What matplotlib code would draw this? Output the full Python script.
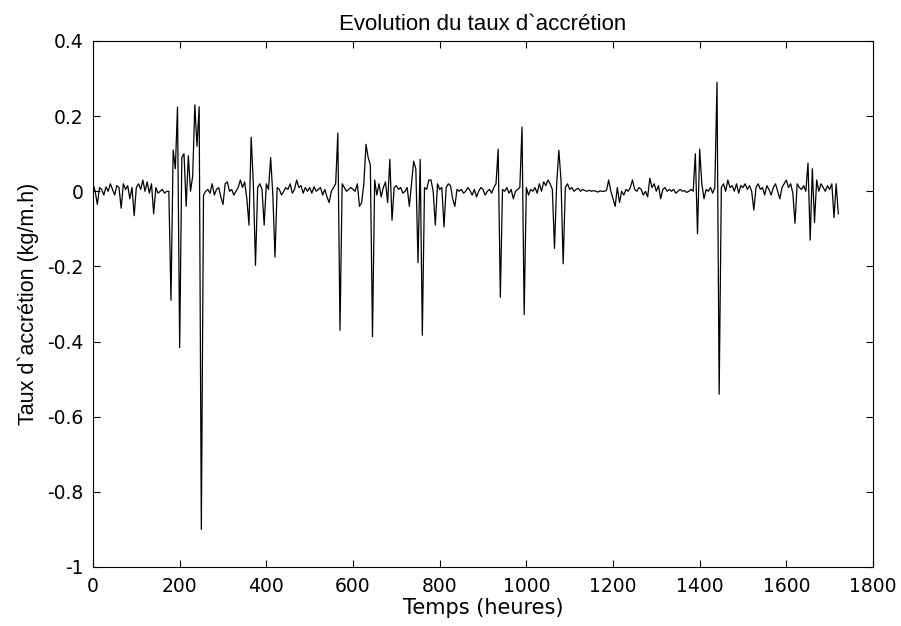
import matplotlib
matplotlib.use("Agg")
import matplotlib.pyplot as plt
import numpy as np

plt.rcParams["font.family"] = ["Liberation Sans", "DejaVu Sans"]
plt.rcParams["axes.unicode_minus"] = False

# sampling step of the read-off series (hours)
step = 5

# accretion rate (kg/m.h), one row per 100 hours
rate = [
    0.02, 0.0, -0.035, 0.01, 0.005, -0.01, 0.012, 0.0, 0.02, 0.005,
    -0.01, 0.015, 0.01, -0.045, 0.02, 0.005, 0.015, -0.02, 0.01, -0.065,
    0.01, 0.02, 0.005, 0.03, 0.0, 0.025, -0.005, 0.02, -0.06, 0.01,
    -0.005, 0.0, 0.005, -0.005, 0.0, 0.0, -0.29, 0.11, 0.06, 0.224,
    -0.416, 0.09, 0.1, -0.04, 0.095, 0.0, 0.04, 0.23, 0.12, 0.225,
    -0.9, -0.01, 0.0, 0.005, -0.005, 0.02, -0.01, 0.005, 0.01, -0.015,
    -0.035, 0.02, 0.025, 0.0, 0.005, -0.01, 0.0, 0.01, 0.03, 0.01,
    0.025, -0.02, -0.09, 0.144, 0.02, -0.197, 0.01, 0.02, 0.005, -0.09,
    0.02, 0.005, 0.09, -0.01, -0.175, 0.01, 0.005, -0.01, 0.0, 0.01,
    0.005, 0.02, -0.005, 0.005, 0.03, 0.01, 0.015, -0.005, 0.01, 0.0,
    0.01, -0.005, 0.012, 0.0, 0.005, 0.01, -0.01, 0.005, -0.015, -0.03,
    0.0, 0.01, 0.02, 0.155, -0.37, 0.02, 0.01, 0.0, 0.005, 0.01,
    0.005, 0.0, 0.02, -0.04, -0.03, 0.02, 0.125, 0.09, 0.07, -0.387,
    0.03, -0.01, 0.02, -0.015, 0.01, 0.025, -0.03, 0.085, -0.077, 0.01,
    0.015, 0.005, 0.01, -0.005, 0.0, 0.01, -0.04, 0.02, 0.08, 0.06,
    -0.19, 0.085, -0.383, 0.01, 0.005, 0.03, 0.03, 0.0, -0.09, 0.02,
    0.005, 0.01, -0.095, 0.01, 0.02, 0.015, -0.02, -0.04, 0.005, 0.0,
    0.005, -0.005, 0.0, 0.01, 0.002, -0.01, 0.005, -0.015, 0.0, 0.01,
    0.005, -0.01, 0.0, 0.005, -0.005, 0.01, 0.02, 0.112, -0.282, 0.005,
    0.0, 0.01, -0.005, 0.005, -0.02, 0.0, 0.005, 0.01, 0.171, -0.328,
    0.01, -0.01, 0.005, 0.0, 0.01, -0.005, 0.02, 0.0, 0.025, 0.015,
    0.03, 0.02, 0.005, -0.152, 0.02, 0.109, 0.03, -0.193, 0.01, 0.02,
    0.005, 0.01, 0.0, 0.005, 0.008, 0.0, 0.005, 0.002, 0.0, 0.003,
    0.0, 0.002, 0.0, -0.002, 0.001, 0.0, 0.0, 0.002, 0.03, 0.0,
    -0.02, -0.04, 0.01, -0.03, 0.0, -0.01, 0.005, 0.0, 0.01, 0.03,
    0.005, 0.0, 0.01, 0.005, -0.01, 0.0, -0.015, 0.035, 0.01, 0.02,
    0.0, 0.015, -0.02, 0.005, 0.01, 0.0, 0.005, 0.0, 0.005, -0.005,
    0.0, 0.005, 0.0, 0.002, -0.003, 0.0, 0.005, 0.0, 0.1, -0.113,
    0.112, 0.02, -0.02, 0.005, 0.0, 0.01, -0.005, 0.01, 0.29, -0.54,
    0.01, 0.02, 0.0, 0.03, 0.01, 0.015, 0.0, 0.02, -0.005, 0.015,
    0.01, 0.02, 0.005, 0.015, 0.0, -0.05, 0.01, 0.02, 0.005, 0.01,
    -0.01, 0.015, 0.005, -0.01, 0.01, 0.02, 0.0, -0.02, 0.01, 0.02,
    0.03, 0.01, 0.02, -0.005, -0.085, 0.02, 0.01, 0.005, 0.015, 0.0,
    0.075, -0.13, 0.06, -0.083, 0.03, 0.0, 0.02, 0.01, 0.0, 0.015,
    0.005, 0.02, -0.07, 0.02, -0.06,
]
hours = np.arange(len(rate)) * step

xticks = [0, 200, 400, 600, 800, 1000, 1200, 1400, 1600, 1800]
yticks = [-1, -0.8, -0.6, -0.4, -0.2, 0, 0.2, 0.4]

fig = plt.figure(figsize=(9.01, 6.26), dpi=100)
ax = fig.add_axes([93 / 901, 59 / 626, 780 / 901, 526 / 626])

ax.plot(hours, rate, color="black", linewidth=0.9)

ax.set_xlim(0, 1800)
ax.set_ylim(-1, 0.4)
ax.set_xticks(xticks)
ax.set_yticks(yticks)
tick_font = {"family": "DejaVu Sans", "size": 13.5}
ax.set_xticklabels([f"{t:g}" for t in xticks], fontdict=tick_font)
ax.set_yticklabels([f"{t:g}" for t in yticks], fontdict=tick_font)
ax.tick_params(direction="in", length=5, width=0.8, top=True, right=True, pad=7)
for s in ax.spines.values():
    s.set_linewidth(0.8)

ax.set_title("Evolution du taux d`accrétion", fontsize=16, pad=8)
ax.set_xlabel("Temps (heures)", family="DejaVu Sans", fontsize=15, labelpad=2)
ax.set_ylabel("Taux d`accrétion (kg/m.h)", fontsize=15.5, labelpad=6)

fig.savefig("out.png", dpi=100)
